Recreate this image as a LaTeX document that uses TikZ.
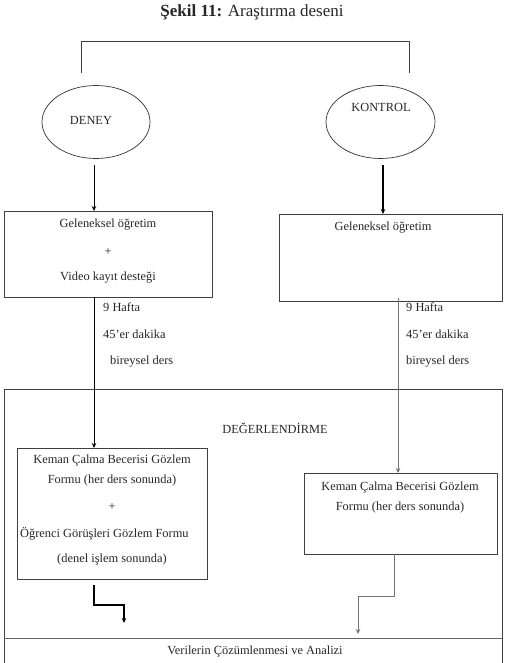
\documentclass[tikz,border=0pt]{standalone}
\usepackage{fontspec}
\setmainfont{Liberation Serif}
\usetikzlibrary{arrows.meta,shapes.geometric}
\begin{document}
\begin{tikzpicture}[x=1pt,y=-1pt,
  txt/.style={font=\fontsize{12.4}{14}\selectfont, inner sep=0pt, text=black!85},
  frame/.style={draw=black!75, line width=0.7pt, inner sep=0pt, anchor=north west},
  oval/.style={draw=black!80, line width=0.7pt, ellipse, inner sep=0pt},
  link/.style={draw=black, line width=0.8pt},
  glink/.style={draw=black!55, line width=0.9pt},
  tip/.style={-{Stealth[length=5pt,width=4.5pt]}}
]
\useasboundingbox (0,0) rectangle (508,663);

% title
\node[txt, font=\fontsize{17}{20}\selectfont] (title) at (252,12) {\textbf{Şekil 11:} Araştırma deseni};

% top bracket
\coordinate (bl) at (81,73);
\coordinate (br) at (409,73);
\draw[link, draw=black!75] (bl) -- (81,41) -- (409,41) -- (br);

% ellipses
\node[oval, minimum width=108pt, minimum height=73pt] (den) at (96,122) {};
\node[txt] (dent) at (91,120) {DENEY};
\node[oval, minimum width=109pt, minimum height=73pt] (kon) at (380.5,122) {};
\node[txt] (kont) at (381,107) {KONTROL};

% treatment boxes
\node[frame, minimum width=208pt, minimum height=86pt] (lbox) at (4,211) {};
\node[txt] (l1) at (108,225) {Geleneksel öğretim};
\node[txt] (l2) at (108,252) {+};
\node[txt] (l3) at (108,278) {Video kayıt desteği};

\node[frame, minimum width=223pt, minimum height=87pt] (rbox) at (279,214) {};
\node[txt] (r1) at (383,228) {Geleneksel öğretim};

% arrows from ellipses
\coordinate (da) at (94,165);
\coordinate (ka) at (383,165);
\draw[link, line width=1pt, tip] (da) -- (da |- lbox.north);
\draw[link, line width=1.1pt, tip] (ka) -- (ka |- rbox.north);

% duration labels
\node[txt, anchor=west] (lh1) at (103,307) {9 Hafta};
\node[txt, anchor=west] (lh2) at (103,334) {45'er dakika};
\node[txt, anchor=west] (lh3) at (110,362) {bireysel ders};
\node[txt, anchor=west] (rh1) at (406,307) {9 Hafta};
\node[txt, anchor=west] (rh2) at (406,334) {45'er dakika};
\node[txt, anchor=west] (rh3) at (406,362) {bireysel ders};

% evaluation frame
\coordinate (eb1) at (4,663);
\coordinate (eb2) at (502,663);
\draw[draw=black!75, line width=0.8pt] (eb1) -- (4,389) -- (502,389) -- (eb2);
\coordinate (vl) at (4,638);
\coordinate (vr) at (502,638);
\draw[draw=black!60, line width=0.8pt] (vl) -- (vr);
\node[txt] (deg) at (275,428) {DEĞERLENDİRME};

% evaluation boxes
\node[frame, minimum width=190pt, minimum height=131pt] (lev) at (17,448) {};
\node[txt] (e1) at (112,461) {Keman Çalma Becerisi Gözlem};
\node[txt] (e2) at (112,481) {Formu (her ders sonunda)};
\node[txt] (e3) at (112,507) {+};
\node[txt, anchor=west] (e4) at (20,534) {Öğrenci Görüşleri Gözlem Formu};
\node[txt] (e5) at (112,560) {(denel işlem sonunda)};

\node[frame, minimum width=193pt, minimum height=81pt] (rev) at (304,473) {};
\node[txt] (f1) at (400,488) {Keman Çalma Becerisi Gözlem};
\node[txt] (f2) at (400,508) {Formu (her ders sonunda)};

% long connectors
\coordinate (ls) at (94,297);
\coordinate (rs) at (398,298);
\draw[link, tip] (ls) -- (ls |- lev.north);
\draw[glink, tip] (rs) -- (rs |- rev.north);

% bottom connectors
\coordinate (lb) at (94,585);
\coordinate (lt) at (124,623);
\draw[link, line width=1.2pt, tip] (lb) -- (94,605) -- (124,605) -- (lt);
\coordinate (rb) at (394,554);
\coordinate (rt) at (358,634);
\draw[glink, tip] (rb) -- (394,596) -- (358,596) -- (rt);

\node[txt] (ver) at (255,652) {Verilerin Çözümlenmesi ve Analizi};
\end{tikzpicture}
\end{document}
